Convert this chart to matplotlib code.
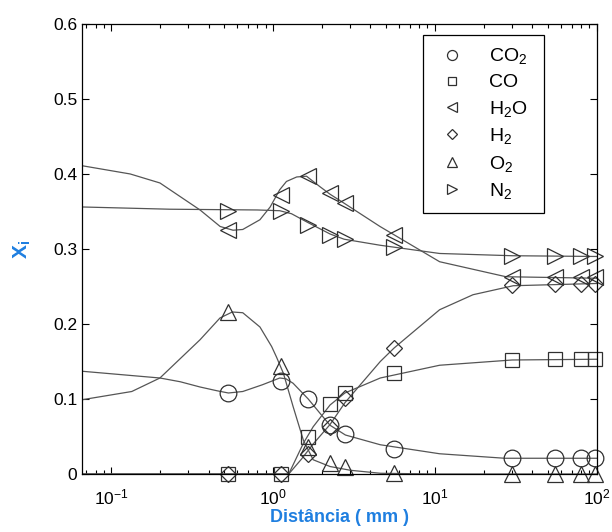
import numpy as np
import matplotlib
matplotlib.use("Agg")
import matplotlib.pyplot as plt
from matplotlib.ticker import LogLocator, FixedLocator, FuncFormatter

plt.rcParams['font.family'] = ['Liberation Sans', 'DejaVu Sans']
plt.rcParams['mathtext.fontset'] = 'custom'
plt.rcParams['mathtext.rm'] = 'Liberation Sans'
plt.rcParams['mathtext.it'] = 'Liberation Sans:italic'
plt.rcParams['mathtext.bf'] = 'Liberation Sans:bold'

# measured points (markers)
x_pts = [0.53, 1.12, 1.65, 2.25, 2.8, 5.6, 30, 55, 80, 97]
co2_pts = [0.108, 0.124, 0.100, 0.065, 0.053, 0.033, 0.021, 0.021, 0.021, 0.021]
co_pts = [0.0, 0.0, 0.049, 0.093, 0.108, 0.134, 0.152, 0.153, 0.153, 0.153]
h2o_pts = [0.325, 0.372, 0.397, 0.375, 0.361, 0.318, 0.263, 0.263, 0.263, 0.263]
h2_pts = [0.0, 0.0, 0.027, 0.063, 0.101, 0.168, 0.252, 0.253, 0.253, 0.253]
o2_pts = [0.216, 0.144, 0.036, 0.015, 0.010, 0.002, 0.0, 0.0, 0.0, 0.0]
n2_pts = [0.351, 0.351, 0.332, 0.319, 0.313, 0.303, 0.290, 0.290, 0.290, 0.290]

# model curves
h2o_x = [0.066, 0.131, 0.2, 0.354, 0.471, 0.566, 0.65, 0.83, 0.96, 1.10, 1.21, 1.40, 1.61,
         1.95, 2.25, 2.75, 4.58, 10.7, 27.5, 100]
h2o_y = [0.411, 0.400, 0.388, 0.352, 0.330, 0.325, 0.326, 0.339, 0.356, 0.379, 0.390, 0.396,
         0.397, 0.383, 0.373, 0.361, 0.330, 0.283, 0.263, 0.261]
n2_x = [0.066, 0.23, 0.8, 1.1, 1.3, 1.65, 2.25, 2.75, 4.58, 10.7, 30, 100]
n2_y = [0.356, 0.353, 0.352, 0.351, 0.347, 0.335, 0.320, 0.313, 0.305, 0.294, 0.291, 0.290]
o2_x = [0.066, 0.134, 0.2, 0.354, 0.47, 0.56, 0.65, 0.83, 0.98, 1.05, 1.16, 1.33, 1.54,
        1.77, 2.25, 3.0, 4.6, 10, 100]
o2_y = [0.099, 0.110, 0.128, 0.179, 0.208, 0.216, 0.215, 0.196, 0.170, 0.156, 0.134, 0.090,
        0.045, 0.019, 0.010, 0.005, 0.001, 0.0, 0.0]
co2_x = [0.066, 0.2, 0.267, 0.354, 0.45, 0.53, 0.65, 0.86, 1.1, 1.2, 1.33, 1.65, 1.95, 2.25,
         2.8, 4.6, 10.7, 27, 100]
co2_y = [0.137, 0.128, 0.123, 0.116, 0.111, 0.108, 0.110, 0.119, 0.128, 0.127, 0.121, 0.100,
         0.081, 0.065, 0.052, 0.039, 0.027, 0.021, 0.021]
co_x = [0.066, 1.25, 1.54, 1.77, 2.25, 2.78, 4.6, 10.7, 30, 100]
co_y = [0.0, 0.0, 0.041, 0.063, 0.092, 0.108, 0.128, 0.145, 0.152, 0.153]
h2_x = [0.066, 1.25, 1.5, 1.77, 2.25, 2.78, 4.6, 5.6, 10.7, 17.2, 30.5, 100]
h2_y = [0.0, 0.0, 0.02, 0.04, 0.066, 0.095, 0.15, 0.168, 0.219, 0.239, 0.251, 0.254]

labels = [r'CO$_\mathrm{2}$', 'CO', r'H$_\mathrm{2}$O', r'H$_\mathrm{2}$', r'O$_\mathrm{2}$', r'N$_\mathrm{2}$']

fig = plt.figure(figsize=(6.12, 5.32), dpi=100)
ax = fig.add_axes([0.134, 0.109, 0.841, 0.846])

lc = '#555555'
for xx, yy in [(h2o_x, h2o_y), (n2_x, n2_y), (o2_x, o2_y), (co2_x, co2_y), (co_x, co_y), (h2_x, h2_y)]:
    ax.plot(xx, yy, color=lc, lw=0.9)

mc = '#303030'
series = [(co2_pts, 'o', 12), (co_pts, 's', 10), (h2o_pts, '<', 11), (h2_pts, 'D', 8.5),
          (o2_pts, '^', 11), (n2_pts, '>', 11)]
for (yy, m, ms), lab in zip(series, labels):
    ax.plot(x_pts, yy, linestyle='none', marker=m, markersize=ms, markerfacecolor='none',
            markeredgecolor=mc, markeredgewidth=0.9, label=lab, clip_on=False)

ax.set_xscale('log')
ax.set_xlim(0.066, 100)
ax.set_ylim(0, 0.6)
ax.yaxis.set_major_locator(FixedLocator([0, 0.1, 0.2, 0.3, 0.4, 0.5, 0.6]))
ax.yaxis.set_major_formatter(FuncFormatter(lambda v, p: '0' if v == 0 else '%.1f' % v))
ax.xaxis.set_major_locator(LogLocator(base=10, numticks=10))
ax.xaxis.set_minor_locator(LogLocator(base=10, subs=np.arange(2, 10), numticks=10))
ax.tick_params(which='both', direction='in', top=True, right=True, labelsize=12.5, width=0.8)
ax.tick_params(which='major', length=5)
ax.tick_params(which='minor', length=3)
ax.tick_params(axis='x', which='major', pad=10)
for s in ax.spines.values():
    s.set_linewidth(0.9)

blue = '#1f7fe0'
ax.set_xlabel('Distância ( mm )', color=blue, fontsize=13, fontweight='bold', labelpad=1)
ax.set_ylabel(r'$\mathbf{X}_\mathbf{i}$', color=blue, fontsize=15, labelpad=14)

leg = ax.legend(loc='upper left', bbox_to_anchor=(0.662, 0.58, 0.235, 0.396), mode='expand',
                borderaxespad=0, fontsize=14, frameon=True, fancybox=False, edgecolor='black',
                framealpha=1, labelspacing=0.38, handletextpad=1.0, borderpad=0.6,
                handlelength=1.8, markerscale=0.6)
leg.get_frame().set_linewidth(0.9)

fig.savefig('out.png', dpi=100)
